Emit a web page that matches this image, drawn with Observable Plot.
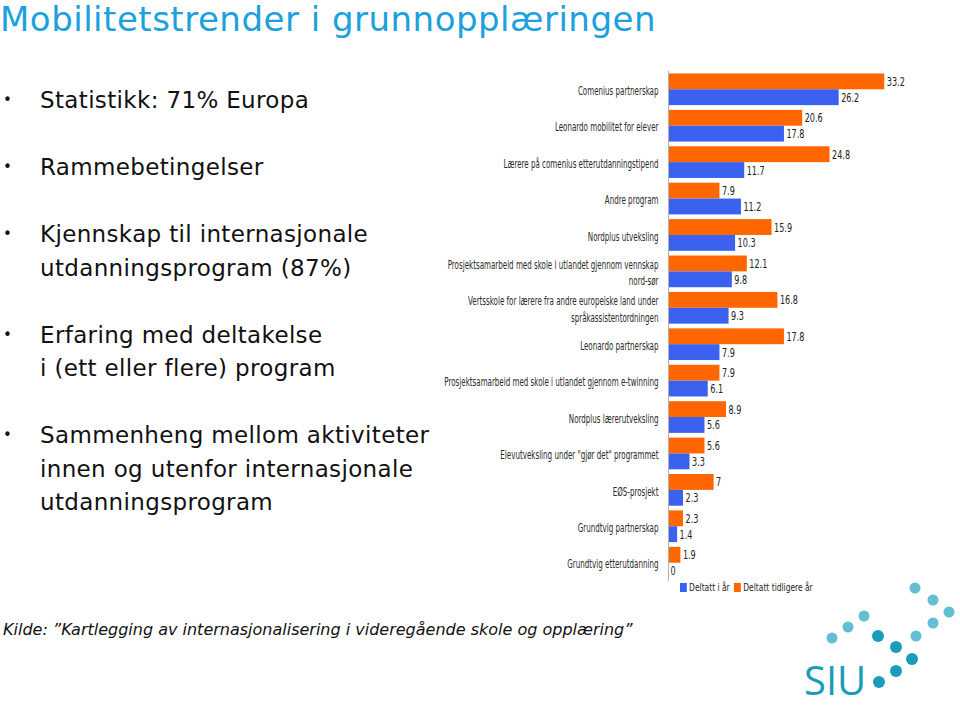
<!DOCTYPE html>
<html>
<head>
<meta charset="utf-8">
<script src="https://cdn.jsdelivr.net/npm/d3@7"></script>
<script src="https://cdn.jsdelivr.net/npm/@observablehq/plot@0.6"></script>
<style>
  html, body { margin: 0; padding: 0; background: #fff; }
  #page { position: relative; width: 960px; height: 708px; overflow: hidden; background: #fff; font-family: "DejaVu Sans", Verdana, sans-serif; }
  #title { position: absolute; left: 0; top: 0; font-size: 34px; letter-spacing: 0.5px; color: #1ba1dd; white-space: nowrap; line-height: 38px; }
  #bullets { position: absolute; left: 0; top: 84px; font-size: 23px; letter-spacing: 0.35px; line-height: 33.5px; color: #111; }
  .item { position: relative; padding-left: 40px; margin-bottom: 33.5px; white-space: nowrap; }
  .item::before { content: "•"; position: absolute; left: 3px; font-size: 15px; }
  #chart { position: absolute; left: 420px; top: 60px; }
  #legend { position: absolute; left: 680px; top: 581px; font-family: "DejaVu Sans Condensed", "DejaVu Sans", sans-serif; font-size: 11px; color: #222; white-space: nowrap; transform: scaleX(0.76); transform-origin: left top; }
  #legend span.sw { display: inline-block; width: 9px; height: 9px; margin-right: 3px; vertical-align: -1px; }
  #legend span.lab { margin-right: 6px; }
  #caption { position: absolute; left: 3px; top: 620px; font-size: 16px; font-style: italic; color: #111; white-space: nowrap; }
  #logo { position: absolute; left: 800px; top: 575px; }
</style>
</head>
<body>
<div id="page">
  <div id="title">Mobilitetstrender i grunnopplæringen</div>
  <div id="bullets"></div>
  <div id="chart"></div>
  <div id="legend"></div>
  <div id="caption">Kilde: ”Kartlegging av internasjonalisering i videregående skole og opplæring”</div>
  <svg id="logo" width="160" height="133" viewBox="0 0 160 133">
    <g fill="#62c0d2">
      <circle cx="115" cy="13" r="5.5"/><circle cx="133" cy="25" r="5.5"/><circle cx="149" cy="37" r="5.5"/>
      <circle cx="133" cy="48" r="5.5"/><circle cx="116" cy="61" r="5.5"/>
      <circle cx="64" cy="41" r="5.5"/><circle cx="48" cy="52" r="5.5"/><circle cx="32" cy="63" r="5.5"/>
    </g>
    <g fill="#1a9cba">
      <circle cx="112" cy="84" r="6"/><circle cx="96" cy="96" r="6"/><circle cx="79" cy="107" r="6"/>
      <circle cx="96" cy="72" r="6"/><circle cx="78" cy="61" r="6"/>
    </g>
    <text x="4" y="120" font-family="'Open Sans','DejaVu Sans',sans-serif" font-size="40" fill="#1a9cba">SIU</text>
  </svg>
</div>
<script>
const bulletItems = [
  "Statistikk: 71% Europa",
  "Rammebetingelser",
  "Kjennskap til internasjonale<br>utdanningsprogram (87%)",
  "Erfaring med deltakelse<br>i (ett eller flere) program",
  "Sammenheng mellom aktiviteter<br>innen og utenfor internasjonale<br>utdanningsprogram"
];

const categories = [
  "Comenius partnerskap",
  "Leonardo mobilitet for elever",
  "Lærere på comenius etterutdanningstipend",
  "Andre program",
  "Nordplus utveksling",
  "Prosjektsamarbeid med skole i utlandet gjennom vennskap\nnord-sør",
  "Vertsskole for lærere fra andre europeiske land under\nspråkassistentordningen",
  "Leonardo partnerskap",
  "Prosjektsamarbeid med skole i utlandet gjennom e-twinning",
  "Nordplus lærerutveksling",
  "Elevutveksling under \"gjør det\" programmet",
  "EØS-prosjekt",
  "Grundtvig partnerskap",
  "Grundtvig etterutdanning"
];

const seriesNames = ["Deltatt tidligere år", "Deltatt i år"];
const seriesColors = ["#ff6600", "#3a62ef"];
const legendOrder = ["Deltatt i år", "Deltatt tidligere år"];

const tidligere = [33.2, 20.6, 24.8, 7.9, 15.9, 12.1, 16.8, 17.8, 7.9, 8.9, 5.6, 7, 2.3, 1.9];
const iAar      = [26.2, 17.8, 11.7, 11.2, 10.3, 9.8, 9.3, 7.9, 6.1, 5.6, 3.3, 2.3, 1.4, 0];

document.getElementById("bullets").innerHTML =
  bulletItems.map(t => `<div class="item">${t}</div>`).join("");

const rows = [];
categories.forEach((c, i) => {
  rows.push({cat: c, series: seriesNames[0], value: tidligere[i]});
  rows.push({cat: c, series: seriesNames[1], value: iAar[i]});
});

const narrow = "'Liberation Sans Narrow', 'DejaVu Sans Condensed', 'Arial Narrow', sans-serif";

const chart = Plot.plot({
  width: 500,
  height: 548,
  marginLeft: 248,
  marginRight: 24,
  marginTop: 12,
  marginBottom: 28,
  style: {fontFamily: narrow, background: "transparent"},
  x: {domain: [0, 35], axis: null},
  y: {domain: seriesNames, padding: 0, axis: null, round: false},
  fy: {domain: categories, paddingInner: 0.13, paddingOuter: 0.04, axis: null, round: false},
  color: {domain: seriesNames, range: seriesColors},
  marks: [
    Plot.barX(rows, {x: "value", y: "series", fy: "cat", fill: "series"}),
    Plot.ruleX([0], {stroke: "#b0b0b0", strokeWidth: 1, insetTop: -2.7, insetBottom: -2.7}),
    Plot.text(rows, {x: "value", y: "series", fy: "cat", text: d => String(d.value),
      textAnchor: "start", dx: 2, fontSize: 12.5, fill: "#222", fontFamily: narrow}),
    Plot.text(categories, {fy: d => d, frameAnchor: "left", text: d => d, textAnchor: "end",
      dx: -10, fontSize: 12, lineHeight: 1.35, fill: "#2a2a2a", fontFamily: narrow})
  ]
});
document.getElementById("chart").appendChild(chart);

// condense the chart's texts horizontally (the reference uses a narrow face)
const texts = d3.select(chart).selectAll("g[aria-label='text']");
texts.each(function(_, gi) {
  const k = gi === 0 ? 0.72 : 0.66;
  d3.select(this).selectAll("text").each(function() {
    const t = d3.select(this);
    t.attr("transform", (t.attr("transform") || "") + ` scale(${k},1)`);
  });
});

document.getElementById("legend").innerHTML = legendOrder.map(s =>
  `<span class="sw" style="background:${seriesColors[seriesNames.indexOf(s)]}"></span><span class="lab">${s}</span>`
).join("");
</script>
</body>
</html>
